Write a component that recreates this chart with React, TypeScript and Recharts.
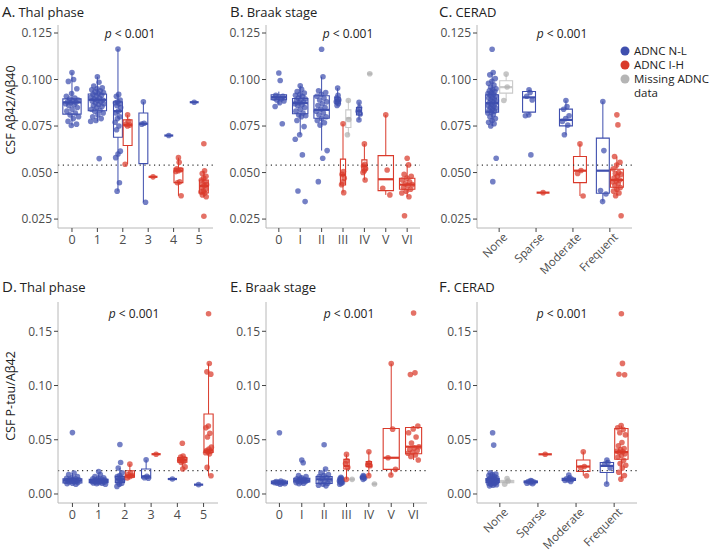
import React from "react";
import {
  ComposedChart,
  Scatter,
  XAxis,
  YAxis,
  ReferenceLine,
  ReferenceArea,
} from "recharts";

// categories
const thalCats = ["0", "1", "2", "3", "4", "5"];
const braakCats = ["0", "I", "II", "III", "IV", "V", "VI"];
const ceradCats = ["None", "Sparse", "Moderate", "Frequent"];

// box stats are [lower whisker, q1, median, q3, upper whisker]
type Five = number[] | null;

// A. CSF Aβ42/Aβ40 by Thal phase
const ratioThalNL: number[][] = [
  [0.1038, 0.1, 0.099, 0.095, 0.0925, 0.091, 0.09, 0.0895, 0.089, 0.0885, 0.088, 0.0878, 0.0875, 0.087, 0.0865, 0.086, 0.085, 0.084, 0.083, 0.082, 0.081, 0.08, 0.079, 0.0775, 0.076, 0.0753],
  [0.1015, 0.0985, 0.0965, 0.0955, 0.095, 0.0945, 0.094, 0.0935, 0.093, 0.0925, 0.092, 0.0915, 0.091, 0.0905, 0.09, 0.0895, 0.089, 0.0888, 0.0885, 0.088, 0.0875, 0.087, 0.0865, 0.086, 0.0855, 0.085, 0.084, 0.0835, 0.083, 0.082, 0.081, 0.08, 0.079, 0.078, 0.0775, 0.0575],
  [0.1164, 0.092, 0.091, 0.089, 0.088, 0.0875, 0.087, 0.086, 0.085, 0.083, 0.082, 0.08, 0.079, 0.077, 0.075, 0.073, 0.0615, 0.06, 0.058, 0.0445, 0.04],
  [0.088, 0.0765, 0.076, 0.034],
  [0.0699],
  [0.0878],
];
const ratioThalNLBox: Five[] = [
  [0.0753, 0.0814, 0.0877, 0.0896, 0.1038],
  [0.0775, 0.0832, 0.0891, 0.0922, 0.1015],
  [0.04, 0.069, 0.083, 0.088, 0.1164],
  [0.034, 0.0548, 0.0762, 0.082, 0.088],
  [0.0699, 0.0699, 0.0699, 0.0699, 0.0699],
  [0.0878, 0.0878, 0.0878, 0.0878, 0.0878],
];
const ratioThalIH: number[][] = [
  [],
  [],
  [0.081, 0.0775, 0.076, 0.0755, 0.075, 0.0545],
  [0.0477],
  [0.058, 0.0555, 0.052, 0.0515, 0.051, 0.0505, 0.045, 0.0445, 0.0375],
  [0.0655, 0.051, 0.0495, 0.048, 0.047, 0.046, 0.045, 0.044, 0.0435, 0.043, 0.042, 0.041, 0.04, 0.0395, 0.039, 0.038, 0.037, 0.0265],
];
const ratioThalIHBox: Five[] = [
  null,
  null,
  [0.0545, 0.0645, 0.0756, 0.0783, 0.081],
  [0.0477, 0.0477, 0.0477, 0.0477, 0.0477],
  [0.0375, 0.0446, 0.051, 0.0523, 0.058],
  [0.037, 0.039, 0.0428, 0.046, 0.051],
];

// B. CSF Aβ42/Aβ40 by Braak stage
const ratioBraakNL: number[][] = [
  [0.1035, 0.0995, 0.0915, 0.091, 0.0905, 0.09, 0.0895, 0.089, 0.0885, 0.0875, 0.0855, 0.0762],
  [0.0966, 0.0948, 0.0935, 0.0927, 0.092, 0.0915, 0.0909, 0.09, 0.0895, 0.0891, 0.0885, 0.088, 0.0875, 0.087, 0.0865, 0.086, 0.085, 0.084, 0.083, 0.082, 0.081, 0.0805, 0.08, 0.078, 0.0747, 0.0703, 0.0679, 0.0595, 0.0401, 0.0344],
  [0.1163, 0.1015, 0.094, 0.093, 0.092, 0.091, 0.09, 0.089, 0.088, 0.087, 0.086, 0.085, 0.084, 0.083, 0.082, 0.081, 0.08, 0.079, 0.078, 0.0768, 0.0755, 0.0618, 0.0577, 0.0451],
  [0.0954, 0.0915, 0.09, 0.089, 0.0885, 0.088, 0.087, 0.086],
  [0.0877, 0.085, 0.083, 0.0815, 0.0783],
  [],
  [],
];
const ratioBraakNLBox: Five[] = [
  [0.0865, 0.0891, 0.0905, 0.0918, 0.0935],
  [0.0703, 0.0816, 0.0873, 0.0898, 0.0966],
  [0.0618, 0.0792, 0.0837, 0.0913, 0.1015],
  [0.086, 0.087, 0.0885, 0.0905, 0.0954],
  [0.0783, 0.081, 0.083, 0.085, 0.0877],
  null,
  null,
];
const ratioBraakIH: number[][] = [
  [],
  [],
  [],
  [0.0762, 0.0505, 0.049, 0.047, 0.045, 0.0435, 0.0392],
  [0.0654, 0.0545, 0.0535, 0.052, 0.051, 0.05, 0.046],
  [0.081, 0.0514, 0.0416, 0.038],
  [0.0577, 0.0541, 0.049, 0.048, 0.047, 0.046, 0.045, 0.044, 0.0435, 0.043, 0.042, 0.041, 0.04, 0.039, 0.037, 0.0268],
];
const ratioBraakIHBox: Five[] = [
  null,
  null,
  null,
  [0.0392, 0.0433, 0.0487, 0.0572, 0.0762],
  [0.046, 0.0514, 0.0535, 0.0568, 0.0654],
  [0.038, 0.0403, 0.0464, 0.0591, 0.081],
  [0.037, 0.041, 0.0435, 0.0469, 0.0541],
];
const ratioBraakMiss: number[][] = [[], [], [], [0.0887, 0.0785, 0.0703], [0.1031], [], []];
const ratioBraakMissBox: Five[] = [
  null,
  null,
  null,
  [0.0703, 0.0742, 0.0792, 0.0837, 0.0887],
  [0.1031, 0.1031, 0.1031, 0.1031, 0.1031],
  null,
  null,
];

// C. CSF Aβ42/Aβ40 by CERAD
const ratioCeradNL: number[][] = [
  [0.1163, 0.1038, 0.1025, 0.1005, 0.099, 0.098, 0.097, 0.096, 0.095, 0.0945, 0.094, 0.0935, 0.093, 0.0925, 0.092, 0.0915, 0.091, 0.0905, 0.09, 0.0895, 0.089, 0.0885, 0.088, 0.0875, 0.087, 0.0865, 0.086, 0.0855, 0.085, 0.0845, 0.084, 0.0835, 0.083, 0.0825, 0.082, 0.081, 0.08, 0.079, 0.078, 0.077, 0.0762, 0.075, 0.0577, 0.0451],
  [0.0945, 0.093, 0.091, 0.089, 0.081, 0.0805, 0.0595],
  [0.0887, 0.0855, 0.084, 0.0805, 0.079, 0.0775, 0.0755, 0.0703],
  [0.0882, 0.0618, 0.0403, 0.0385, 0.0344],
];
const ratioCeradNLBox: Five[] = [
  [0.075, 0.0825, 0.0873, 0.0918, 0.1038],
  [0.081, 0.0825, 0.0904, 0.0936, 0.0945],
  [0.0703, 0.0751, 0.0783, 0.0841, 0.0887],
  [0.0344, 0.0389, 0.051, 0.0685, 0.0882],
];
const ratioCeradIH: number[][] = [
  [],
  [0.0392],
  [0.0654, 0.0511, 0.0495, 0.0374],
  [0.081, 0.0756, 0.0586, 0.0555, 0.054, 0.052, 0.05, 0.0495, 0.049, 0.048, 0.047, 0.046, 0.0455, 0.045, 0.044, 0.043, 0.042, 0.041, 0.04, 0.039, 0.0375, 0.0268],
];
const ratioCeradIHBox: Five[] = [
  null,
  [0.0392, 0.0392, 0.0392, 0.0392, 0.0392],
  [0.0374, 0.0446, 0.051, 0.0586, 0.0654],
  [0.0375, 0.0421, 0.046, 0.0518, 0.0586],
];
const ratioCeradMiss: number[][] = [[0.1029, 0.096, 0.0887], [], [], []];
const ratioCeradMissBox: Five[] = [[0.0887, 0.0927, 0.0959, 0.0993, 0.1029], null, null, null];

// D. CSF P-tau/Aβ42 by Thal phase
const ptauThalNL: number[][] = [
  [0.0566, 0.0193, 0.018, 0.016, 0.015, 0.0145, 0.014, 0.0135, 0.013, 0.0128, 0.0125, 0.0122, 0.012, 0.0118, 0.0115, 0.011, 0.0105, 0.01, 0.0095, 0.009],
  [0.0208, 0.018, 0.016, 0.015, 0.0145, 0.014, 0.0135, 0.013, 0.0128, 0.0125, 0.0122, 0.012, 0.0118, 0.0115, 0.0112, 0.011, 0.0108, 0.0105, 0.0102, 0.01, 0.0095, 0.009],
  [0.0456, 0.029, 0.0239, 0.0195, 0.017, 0.016, 0.015, 0.014, 0.013, 0.012, 0.011, 0.01, 0.009, 0.007],
  [0.0315, 0.0162, 0.015, 0.0145],
  [0.0138],
  [0.0086],
];
const ptauThalNLBox: Five[] = [
  [0.009, 0.0101, 0.0125, 0.0141, 0.0193],
  [0.009, 0.0105, 0.012, 0.0135, 0.018],
  [0.007, 0.0107, 0.0135, 0.0162, 0.0239],
  [0.0145, 0.0148, 0.0162, 0.023, 0.0315],
  [0.0138, 0.0138, 0.0138, 0.0138, 0.0138],
  [0.0086, 0.0086, 0.0086, 0.0086, 0.0086],
];
const ptauThalIH: number[][] = [
  [],
  [],
  [0.0275, 0.0195, 0.018, 0.017, 0.016, 0.0147],
  [0.0367],
  [0.0468, 0.035, 0.034, 0.0325, 0.0315, 0.031, 0.03, 0.029, 0.025, 0.023],
  [0.1662, 0.1203, 0.1126, 0.1105, 0.0627, 0.061, 0.056, 0.0525, 0.0432, 0.0415, 0.04, 0.0395, 0.039, 0.038, 0.037, 0.0245, 0.0168],
];
const ptauThalIHBox: Five[] = [
  null,
  null,
  [0.0147, 0.0156, 0.0171, 0.0214, 0.0275],
  [0.0367, 0.0367, 0.0367, 0.0367, 0.0367],
  [0.025, 0.0294, 0.0315, 0.0337, 0.035],
  [0.0168, 0.0383, 0.0401, 0.0738, 0.1203],
];

// E. CSF P-tau/Aβ42 by Braak stage
const ptauBraakNL: number[][] = [
  [0.0564, 0.012, 0.0115, 0.011, 0.0108, 0.0105, 0.0102, 0.01, 0.0095, 0.009],
  [0.0313, 0.0288, 0.017, 0.016, 0.015, 0.014, 0.0135, 0.013, 0.0125, 0.012, 0.0118, 0.0115, 0.011, 0.0105, 0.01, 0.0095],
  [0.0454, 0.023, 0.0195, 0.018, 0.017, 0.016, 0.015, 0.014, 0.013, 0.012, 0.011, 0.01, 0.009, 0.008, 0.0075],
  [0.0155, 0.0145, 0.014, 0.013, 0.0125, 0.012, 0.0115, 0.011, 0.0105, 0.01, 0.009],
  [0.017, 0.016, 0.0155, 0.0145, 0.0135],
  [],
  [],
];
const ptauBraakNLBox: Five[] = [
  [0.009, 0.0095, 0.0105, 0.012, 0.012],
  [0.0095, 0.011, 0.0125, 0.0145, 0.017],
  [0.0075, 0.0098, 0.0135, 0.016, 0.023],
  [0.009, 0.011, 0.0125, 0.014, 0.0155],
  [0.0135, 0.014, 0.015, 0.016, 0.017],
  null,
  null,
];
const ptauBraakIH: number[][] = [
  [],
  [],
  [],
  [0.0365, 0.0305, 0.028, 0.0245, 0.0135],
  [0.039, 0.0285, 0.027, 0.026, 0.0169],
  [0.1202, 0.0598, 0.0334, 0.0227, 0.0175],
  [0.1669, 0.1117, 0.1101, 0.0626, 0.06, 0.0565, 0.0525, 0.047, 0.0436, 0.0425, 0.041, 0.04, 0.0385, 0.0375, 0.036, 0.0345, 0.0313],
];
const ptauBraakIHBox: Five[] = [
  null,
  null,
  null,
  [0.0135, 0.023, 0.0258, 0.0319, 0.0365],
  [0.0169, 0.0252, 0.0276, 0.0298, 0.039],
  [0.0175, 0.0227, 0.0334, 0.0604, 0.1202],
  [0.0313, 0.0371, 0.0436, 0.0613, 0.0626],
];
const ptauBraakMiss: number[][] = [[], [], [], [0.0135], [0.0092], [], []];
const ptauBraakMissBox: Five[] = [
  null,
  null,
  null,
  [0.0135, 0.0135, 0.0135, 0.0135, 0.0135],
  [0.0092, 0.0092, 0.0092, 0.0092, 0.0092],
  null,
  null,
];

// F. CSF P-tau/Aβ42 by CERAD
const ptauCeradNL: number[][] = [
  [0.0564, 0.0451, 0.0195, 0.0185, 0.018, 0.017, 0.016, 0.0155, 0.015, 0.0145, 0.014, 0.0138, 0.0135, 0.0132, 0.013, 0.0128, 0.0125, 0.0122, 0.012, 0.0118, 0.0115, 0.0112, 0.011, 0.0108, 0.0105, 0.0102, 0.01, 0.0095, 0.009, 0.0085, 0.008, 0.0075],
  [0.0125, 0.012, 0.0115, 0.011, 0.0105, 0.01, 0.0095],
  [0.0174, 0.015, 0.014, 0.0135, 0.013, 0.0125, 0.0115],
  [0.0314, 0.029, 0.0275, 0.024, 0.0091],
];
const ptauCeradNLBox: Five[] = [
  [0.0075, 0.0107, 0.0128, 0.0143, 0.0195],
  [0.0095, 0.0105, 0.0112, 0.012, 0.0125],
  [0.0115, 0.0125, 0.0135, 0.0145, 0.0174],
  [0.0091, 0.0198, 0.0259, 0.029, 0.0314],
];
const ptauCeradIH: number[][] = [
  [],
  [0.0366],
  [0.039, 0.0253, 0.024, 0.0168],
  [0.1662, 0.1204, 0.1104, 0.11, 0.0631, 0.061, 0.0595, 0.0564, 0.0545, 0.0475, 0.0445, 0.042, 0.041, 0.0395, 0.039, 0.0385, 0.037, 0.0355, 0.034, 0.031, 0.028, 0.0265, 0.024, 0.02, 0.017, 0.0137],
];
const ptauCeradIHBox: Five[] = [
  null,
  [0.0366, 0.0366, 0.0366, 0.0366, 0.0366],
  [0.0168, 0.0207, 0.0253, 0.0314, 0.039],
  [0.0137, 0.032, 0.0387, 0.0604, 0.0631],
];
const ptauCeradMiss: number[][] = [[0.0143, 0.012, 0.0091], [], [], []];
const ptauCeradMissBox: Five[] = [[0.0091, 0.0105, 0.012, 0.0125, 0.0143], null, null, null];

const ratioTicks = [0.025, 0.05, 0.075, 0.1, 0.125];
const ptauTicks = [0, 0.05, 0.1, 0.15];
const ratioCut = 0.054;
const ptauCut = 0.0215;

const BLUE = "#3f4fae";
const RED = "#d93a2b";
const GREY = "#b5b5b5";
const FONT = "'Open Sans', 'Noto Sans', sans-serif";
const TXT = "#4d4d4d";

interface Series {
  dot: string;
  line: string;
  pts: number[][];
  box: Five[];
}

const nl = (pts: number[][], box: Five[]): Series => ({ dot: BLUE, line: BLUE, pts, box });
const ih = (pts: number[][], box: Five[]): Series => ({ dot: RED, line: RED, pts, box });
const miss = (pts: number[][], box: Five[]): Series => ({ dot: "#b0b0b0", line: "#c9c9c9", pts, box });

const DODGE: Record<number, { off: number[]; w: number; jit: number }> = {
  1: { off: [0], w: 0.72, jit: 0.27 },
  2: { off: [-0.19, 0.19], w: 0.35, jit: 0.12 },
  3: { off: [-0.25, 0, 0.25], w: 0.24, jit: 0.08 },
};

function jitter(i: number, n: number) {
  if (n === 1 || i === 0) return 0;
  return (((i * 0.618034) % 1) - 0.5) * 2;
}

interface PanelProps {
  x0: number;
  x1: number;
  y0: number;
  y1: number;
  cats: string[];
  series: Series[];
  yDomain: [number, number];
  yTicks: number[];
  digits: number;
  cut: number;
  rotate?: boolean;
}

function Panel({ x0, x1, y0, y1, cats, series, yDomain, yTicks, digits, cut, rotate }: PanelProps) {
  const n = cats.length;
  const pad = n === 6 ? 0.55 : 0.6;
  const width = x1 - x0 + 80;
  const height = y1 - y0 + 80;

  const dotData: { x: number; y: number }[][] = series.map(() => []);
  const marks: React.ReactNode[] = [];

  cats.forEach((_, c) => {
    const here = series.map((s, k) => (s.pts[c] && s.pts[c].length ? k : -1)).filter((k) => k >= 0);
    const d = DODGE[here.length];
    here.forEach((k, j) => {
      const s = series[k];
      const cx = c + d.off[j];
      const pts = s.pts[c];
      pts.forEach((v, i) => dotData[k].push({ x: cx + jitter(i, pts.length) * d.jit, y: v }));
      const b = s.box[c];
      if (!b) return;
      const [lo, q1, med, q3, hi] = b;
      const l = cx - d.w / 2;
      const r = cx + d.w / 2;
      const key = `${c}-${k}`;
      if (hi > q3)
        marks.push(
          <ReferenceLine key={`hw${key}`} segment={[{ x: cx, y: q3 }, { x: cx, y: hi }]} stroke={s.line} strokeWidth={1} />
        );
      if (lo < q1)
        marks.push(
          <ReferenceLine key={`lw${key}`} segment={[{ x: cx, y: lo }, { x: cx, y: q1 }]} stroke={s.line} strokeWidth={1} />
        );
      if (q3 > q1)
        marks.push(
          <ReferenceArea key={`bx${key}`} x1={l} x2={r} y1={q1} y2={q3} fill="none" stroke={s.line} strokeWidth={1.1} />
        );
      marks.push(
        <ReferenceLine key={`md${key}`} segment={[{ x: l, y: med }, { x: r, y: med }]} stroke={s.line} strokeWidth={2.2} />
      );
    });
  });

  const RotTick = (p: any) => (
    <g transform={`translate(${p.x + 3},${p.y - 3}) rotate(-45)`}>
      <text x={0} y={0} dy="0.72em" textAnchor="end" fill={TXT} fontSize={11.5} fontFamily={FONT}>
        {cats[p.payload.value]}
      </text>
    </g>
  );

  return (
    <div style={{ position: "absolute", left: x0 - 60, top: y0 - 10 }}>
      <ComposedChart width={width} height={height} margin={{ top: 10, right: 20, bottom: 10, left: 0 }}>
        <XAxis
          type="number"
          dataKey="x"
          domain={[-pad, n - 1 + pad]}
          allowDataOverflow
          ticks={cats.map((_, i) => i)}
          interval={0}
          height={60}
          tickSize={4}
          tickMargin={3}
          axisLine={{ stroke: "#b8b8b8" }}
          tickLine={{ stroke: "#444" }}
          tick={rotate ? RotTick : { fill: TXT, fontSize: 12.5, fontFamily: FONT }}
          tickFormatter={(v: number) => cats[v]}
        />
        <YAxis
          type="number"
          dataKey="y"
          domain={yDomain}
          allowDataOverflow
          ticks={yTicks}
          interval={0}
          width={60}
          tickSize={4}
          tickMargin={2}
          axisLine={{ stroke: "#b8b8b8" }}
          tickLine={{ stroke: "#444" }}
          tick={{ fill: TXT, fontSize: 12, fontFamily: FONT }}
          tickFormatter={(v: number) => v.toFixed(digits)}
        />
        <ReferenceLine y={cut} stroke="#333" strokeWidth={1.2} strokeDasharray="1.2 3.6" />
        {marks}
        {series.map((s, k) => (
          <Scatter
            key={k}
            data={dotData[k]}
            isAnimationActive={false}
            shape={(p: any) => <circle cx={p.cx} cy={p.cy} r={2.8} fill={s.dot} fillOpacity={0.72} />}
          />
        ))}
      </ComposedChart>
    </div>
  );
}

const ratioDomain: [number, number] = [0.0202, 0.1293];
const ptauDomain: [number, number] = [-0.0083, 0.177];

function Title({ x, y, letter, text }: { x: number; y: number; letter: string; text: string }) {
  return (
    <text x={x} y={y} fontFamily={FONT} fill="#222">
      <tspan fontSize={15}>{letter}</tspan>
      <tspan fontSize={13} dx={3}>
        {text}
      </tspan>
    </text>
  );
}

function PVal({ x, y }: { x: number; y: number }) {
  return (
    <text x={x} y={y} textAnchor="middle" fontFamily={FONT} fontSize={12} fill="#222">
      <tspan fontStyle="italic">p</tspan> {"< 0.001"}
    </text>
  );
}

export default function App() {
  return (
    <div style={{ position: "absolute", left: 0, top: 0, width: 712, height: 553, background: "#fff", overflow: "hidden" }}>
      <Panel x0={58} x1={213} y0={25} y1={228} cats={thalCats} yDomain={ratioDomain} yTicks={ratioTicks} digits={3} cut={ratioCut}
        series={[nl(ratioThalNL, ratioThalNLBox), ih(ratioThalIH, ratioThalIHBox)]} />
      <Panel x0={266} x1={420} y0={25} y1={228} cats={braakCats} yDomain={ratioDomain} yTicks={ratioTicks} digits={3} cut={ratioCut}
        series={[nl(ratioBraakNL, ratioBraakNLBox), ih(ratioBraakIH, ratioBraakIHBox), miss(ratioBraakMiss, ratioBraakMissBox)]} />
      <Panel x0={477} x1={632} y0={25} y1={228} cats={ceradCats} yDomain={ratioDomain} yTicks={ratioTicks} digits={3} cut={ratioCut} rotate
        series={[nl(ratioCeradNL, ratioCeradNLBox), ih(ratioCeradIH, ratioCeradIHBox), miss(ratioCeradMiss, ratioCeradMissBox)]} />
      <Panel x0={58} x1={218} y0={302} y1={503} cats={thalCats} yDomain={ptauDomain} yTicks={ptauTicks} digits={2} cut={ptauCut}
        series={[nl(ptauThalNL, ptauThalNLBox), ih(ptauThalIH, ptauThalIHBox)]} />
      <Panel x0={266} x1={427} y0={302} y1={503} cats={braakCats} yDomain={ptauDomain} yTicks={ptauTicks} digits={2} cut={ptauCut}
        series={[nl(ptauBraakNL, ptauBraakNLBox), ih(ptauBraakIH, ptauBraakIHBox), miss(ptauBraakMiss, ptauBraakMissBox)]} />
      <Panel x0={477} x1={637} y0={302} y1={503} cats={ceradCats} yDomain={ptauDomain} yTicks={ptauTicks} digits={2} cut={ptauCut} rotate
        series={[nl(ptauCeradNL, ptauCeradNLBox), ih(ptauCeradIH, ptauCeradIHBox), miss(ptauCeradMiss, ptauCeradMissBox)]} />

      <svg width={712} height={553} style={{ position: "absolute", left: 0, top: 0, pointerEvents: "none" }}>
        <Title x={2} y={17} letter="A." text="Thal phase" />
        <Title x={230} y={17} letter="B." text="Braak stage" />
        <Title x={439} y={17} letter="C." text="CERAD" />
        <Title x={2} y={292} letter="D." text="Thal phase" />
        <Title x={230} y={292} letter="E." text="Braak stage" />
        <Title x={439} y={292} letter="F." text="CERAD" />

        <text transform="translate(15,110) rotate(-90)" textAnchor="middle" fontFamily={FONT} fontSize={12.5} fill="#222">
          CSF Aβ42/Aβ40
        </text>
        <text transform="translate(15,396) rotate(-90)" textAnchor="middle" fontFamily={FONT} fontSize={12.5} fill="#222">
          CSF P-tau/Aβ42
        </text>

        <PVal x={130} y={38} />
        <PVal x={348} y={38} />
        <PVal x={562} y={38} />
        <PVal x={134} y={318} />
        <PVal x={349} y={318} />
        <PVal x={562} y={318} />

        <g fontFamily={FONT} fontSize={11.5} fill="#222">
          <circle cx={625} cy={51} r={4.5} fill={BLUE} />
          <text x={634} y={55}>ADNC N-L</text>
          <circle cx={625} cy={65} r={4.5} fill={RED} />
          <text x={634} y={69}>ADNC I-H</text>
          <circle cx={625} cy={79} r={4.5} fill={GREY} />
          <text x={634} y={83}>Missing ADNC</text>
          <text x={634} y={97}>data</text>
        </g>
      </svg>
    </div>
  );
}
